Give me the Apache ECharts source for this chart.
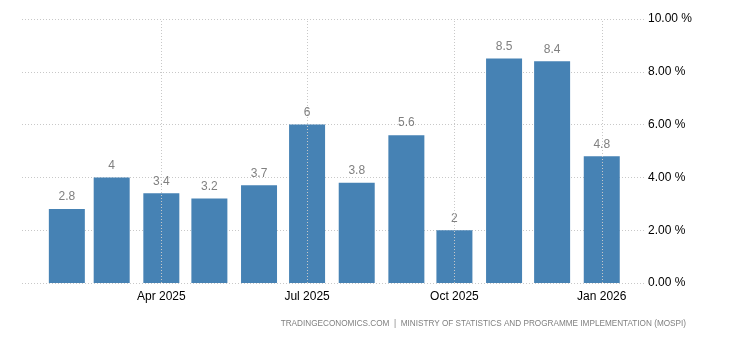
<!DOCTYPE html>
<html><head><meta charset="utf-8">
<script src="https://cdn.jsdelivr.net/npm/echarts@6/dist/echarts.min.js"></script>
<style>html,body{margin:0;padding:0;background:#fff}#c{width:730px;height:340px}</style>
</head><body><div id="c"></div>
<script>
const months = ['2025-02-01','2025-03-01','2025-04-01','2025-05-01','2025-06-01','2025-07-01','2025-08-01','2025-09-01','2025-10-01','2025-11-01','2025-12-01','2026-01-01'];
const values = [2.8, 4, 3.4, 3.2, 3.7, 6, 3.8, 5.6, 2, 8.5, 8.4, 4.8];
const tickDates = ['2025-04-01','2025-07-01','2025-10-01','2026-01-01'];
const yTicks = [0, 2, 4, 6, 8, 10];
const MN = ['Jan','Feb','Mar','Apr','May','Jun','Jul','Aug','Sep','Oct','Nov','Dec'];
const t = s => { const [y,m,d] = s.split('-').map(Number); return Date.UTC(y, m-1, d); };
const chart = echarts.init(document.getElementById('c'));
chart.setOption({
  animation: false,
  grid: {left: 22, right: 85, top: 19, bottom: 57},
  xAxis: {
    type: 'value',
    min: t('2025-01-04'), max: t('2026-01-28'),
    axisLine: {show: false}, axisTick: {show: false},
    splitLine: {show: false},
    axisLabel: {
      customValues: tickDates.map(t),
      formatter: v => { const d = new Date(v); return MN[d.getUTCMonth()] + ' ' + d.getUTCFullYear(); },
      color: '#000', fontSize: 12, fontFamily: 'Liberation Sans, Arial', margin: 8
    }
  },
  yAxis: {
    type: 'value', position: 'right', min: 0, max: 10, interval: 2,
    axisLine: {show: false}, axisTick: {show: false},
    splitLine: {lineStyle: {type: [1, 2], color: '#c8c8c8'}},
    axisLabel: {formatter: v => v.toFixed(2) + ' %', color: '#000', fontSize: 12, fontFamily: 'Liberation Sans, Arial', margin: 3}
  },
  series: [{
    type: 'bar',
    data: months.map((m, i) => [t(m), values[i]]),
    barWidth: 36,
    itemStyle: {color: '#4682B4'},
    label: {show: true, position: 'top', distance: 6, color: '#808080', fontSize: 12, fontFamily: 'Liberation Sans, Arial'},
    markLine: {
      silent: true, symbol: 'none', label: {show: false},
      lineStyle: {type: [1, 2], color: '#c8c8c8', width: 1},
      data: tickDates.map(d => ({xAxis: t(d)}))
    },
    z: 3
  }],
  graphic: [{
    type: 'text', right: 44, top: 320,
    style: {text: 'TRADINGECONOMICS.COM  |  MINISTRY OF STATISTICS AND PROGRAMME IMPLEMENTATION (MOSPI)', fill: '#808080', font: '8.2px Liberation Sans, Arial'}
  }]
});
</script></body></html>
